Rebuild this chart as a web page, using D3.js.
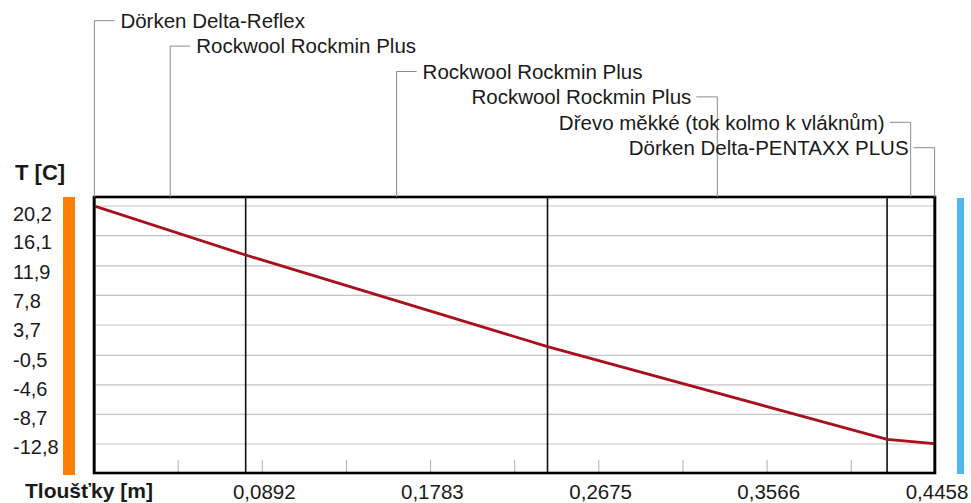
<!DOCTYPE html>
<html>
<head>
<meta charset="utf-8">
<script src="https://cdn.jsdelivr.net/npm/d3@7"></script>
<style>
html,body{margin:0;padding:0;background:#fff;}
svg{display:block;}
text{font-family:"Liberation Sans",Arial,sans-serif;fill:#1a1a1a;}
</style>
</head>
<body>
<svg id="chart" width="971" height="503"></svg>
<script>
// ---- data ----
const layerNames = ["Dörken Delta-Reflex","Rockwool Rockmin Plus","Rockwool Rockmin Plus","Rockwool Rockmin Plus","Dřevo měkké (tok kolmo k vláknům)","Dörken Delta-PENTAXX PLUS"];
const layerThickness = [0.0004, 0.08, 0.16, 0.18, 0.025, 0.0004];
const profileX = [0, 0.0004, 0.0804, 0.2404, 0.4204, 0.4454, 0.4458];
const profileT = [20.2, 20.18, 13.4, 0.7, -12.15, -12.75, -12.8];
const yTickLabels = ["20,2","16,1","11,9","7,8","3,7","-0,5","-4,6","-8,7","-12,8"];
const xTickLabels = ["0,0892","0,1783","0,2675","0,3566","0,4458"];
const yTitle = "T [C]";
const xTitle = "Tloušťky [m]";

// ---- layout ----
const plot = {left:94, top:197, right:935, bottom:473};
const num = s => +s.replace(",", ".");
const yTickValues = yTickLabels.map(num);
const xTickValues = xTickLabels.map(num);
const total = d3.sum(layerThickness);
const tMax = d3.max(yTickValues), tMin = d3.min(yTickValues);

const svg = d3.select("#chart");
const x = d3.scaleLinear().domain([0, total]).range([plot.left, plot.right]);
const y = d3.scaleLinear().domain([tMin, tMax]).range([444, 206]);
const yLab = d3.scaleLinear().domain([tMin, tMax]).range([446.7, 213.3]);

// side colour bars
svg.append("rect").attr("x",63).attr("y",197).attr("width",12).attr("height",278).attr("fill","#ff8000");
svg.append("rect").attr("x",957).attr("y",198).attr("width",7).attr("height",276).attr("fill","#4fb6f0");

// gridlines
svg.append("g").selectAll("line").data(yTickValues).join("line")
  .attr("x1",plot.left).attr("x2",plot.right)
  .attr("y1",d=>y(d)).attr("y2",d=>y(d))
  .attr("stroke","#c4c4c4").attr("stroke-width",1.2);

// minor bottom ticks
const step = xTickValues[0];
const minor = d3.range(1, 2*xTickValues.length).map(i => i*step/2);
svg.append("g").selectAll("line").data(minor).join("line")
  .attr("x1",d=>x(d)).attr("x2",d=>x(d))
  .attr("y1",plot.bottom-13).attr("y2",plot.bottom)
  .attr("stroke","#b0b0b0").attr("stroke-width",1);

// layer boundaries
const cum = d3.cumsum(layerThickness);
const bounds = Array.from(cum).slice(0,-1);
svg.append("g").selectAll("line").data(bounds).join("line")
  .attr("x1",d=>x(d)).attr("x2",d=>x(d))
  .attr("y1",plot.top).attr("y2",plot.bottom)
  .attr("stroke","#111").attr("stroke-width",1.6);

// temperature profile
const pts = profileX.map((v,i)=>[v, profileT[i]]);
svg.append("path").datum(pts)
  .attr("d", d3.line().x(d=>x(d[0])).y(d=>y(d[1])))
  .attr("fill","none").attr("stroke","#a8101e").attr("stroke-width",2.8);

// frame
svg.append("rect").attr("x",plot.left).attr("y",plot.top)
  .attr("width",plot.right-plot.left).attr("height",plot.bottom-plot.top)
  .attr("fill","none").attr("stroke","#000").attr("stroke-width",2.6);

// y tick labels
svg.append("g").selectAll("text").data(yTickValues).join("text")
  .attr("x",13).attr("y",d=>yLab(d)).attr("dy","0.36em")
  .attr("font-size",20).text((d,i)=>yTickLabels[i]);

// x tick labels
svg.append("g").selectAll("text").data(xTickValues).join("text")
  .attr("x",d=>x(d)+2).attr("y",499).attr("text-anchor","middle")
  .attr("font-size",20.5).text((d,i)=>xTickLabels[i]);

// titles
svg.append("text").attr("x",15).attr("y",180).attr("font-size",22).attr("font-weight","bold").text(yTitle);
svg.append("text").attr("x",25).attr("y",497.5).attr("font-size",21).attr("font-weight","bold").text(xTitle);

// layer labels with leaders
const mids = layerThickness.map((t,i)=> (cum[i]-t/2));
const lab = svg.append("g");
mids.forEach((m,i)=>{
  const mx = x(m);
  const ly = 20.7 + i*25.4;
  const leftSide = mx < (plot.left+plot.right)/2;
  const hx = leftSide ? mx+20 : mx-21;
  lab.append("path")
    .attr("d", `M${mx},${plot.top}V${ly}H${hx}`)
    .attr("fill","none").attr("stroke","#8c8c8c").attr("stroke-width",1);
  lab.append("text")
    .attr("x", leftSide ? mx+26 : mx-26)
    .attr("y", ly).attr("dy","0.36em")
    .attr("text-anchor", leftSide ? "start" : "end")
    .attr("font-size",20.5).text(layerNames[i]);
});
</script>
</body>
</html>
